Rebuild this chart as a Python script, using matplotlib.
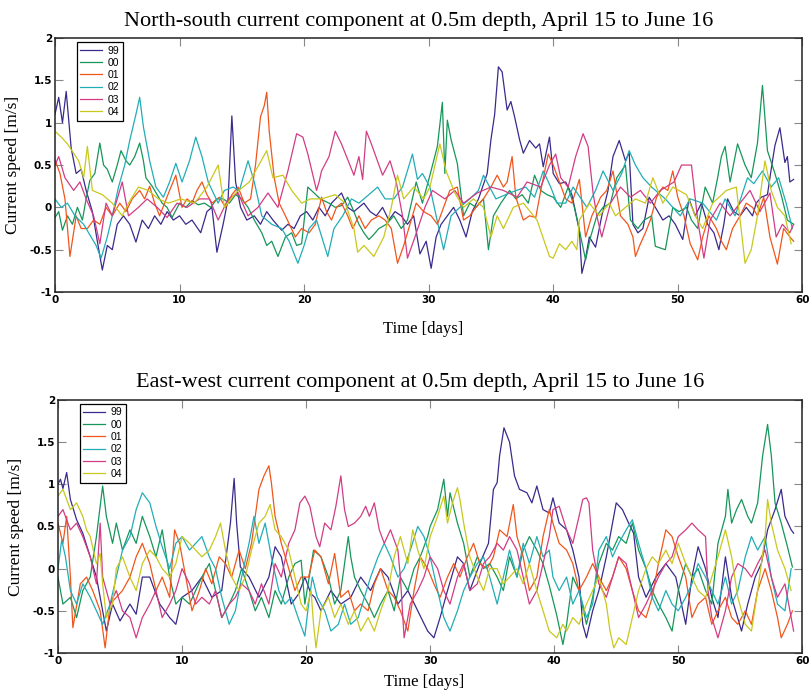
import matplotlib
matplotlib.use("Agg")
import matplotlib.pyplot as plt

labels = ["99", "00", "01", "02", "03", "04"]
colors = ["#3a2a8c", "#16965a", "#f0561c", "#22adb6", "#d23c84", "#c8c81e"]

# ---------- North-south component (top panel) ----------
ns99_t = [0,0.3,0.6,0.9,1.3,1.7,2.1,2.5,3.0,3.4,3.8,4.2,4.6,5.0,5.5,6.0,6.5,7.0,7.5,8.0,8.5,9.0,9.5,10.0,10.5,11.0,11.7,12.2,12.6,13.0,13.5,13.9,14.2,14.5,14.9,15.4,16.0,16.5,17.0,17.5,18.2,18.7,19.2,19.7,20.2,20.7,21.2,21.7,22.2,23.0,23.5,24.0,24.8,25.3,25.8,26.3,26.8,27.3,27.8,28.3,28.8,29.3,29.8,30.2,30.6,31.0,31.5,32.0,32.5,33.0,33.5,34.0,34.7,35.0,35.3,35.6,35.9,36.3,36.6,36.9,37.3,37.6,38.1,38.6,38.9,39.2,39.7,40.0,40.5,41.0,41.5,42.1,42.3,42.6,42.9,43.4,43.9,44.4,44.8,45.3,45.8,46.1,46.4,46.8,47.2,47.7,48.2,48.8,49.3,49.8,50.4,50.9,51.4,51.9,52.4,52.9,53.3,53.7,54.0,54.5,55.0,55.5,56.0,56.3,56.7,57.2,57.5,57.8,58.2,58.6,58.8,59.0,59.3]
ns99_v = [1.1,1.3,1.0,1.37,0.7,0.4,0.45,0.2,-0.05,-0.4,-0.74,-0.45,-0.5,-0.2,-0.1,-0.2,-0.41,-0.15,-0.25,-0.1,-0.2,-0.05,-0.15,-0.1,-0.2,-0.15,-0.3,-0.05,0.0,-0.53,-0.2,0.1,1.08,0.3,0.0,-0.15,-0.1,-0.2,-0.05,-0.15,-0.27,-0.2,-0.25,-0.1,-0.05,-0.15,0.0,-0.1,0.05,0.17,0.0,-0.05,0.05,-0.05,-0.1,0.0,-0.15,-0.05,-0.1,-0.2,-0.1,-0.55,-0.4,-0.72,-0.35,-0.2,-0.1,0.0,-0.15,-0.35,-0.05,0.1,0.4,0.8,1.1,1.66,1.6,1.15,1.25,1.07,0.8,0.64,0.79,0.7,0.75,0.48,0.83,0.4,0.28,0.3,0.15,-0.27,-0.78,-0.6,-0.35,-0.47,-0.1,0.2,0.6,0.79,0.55,0.65,-0.2,-0.3,-0.25,0.12,0.0,-0.15,-0.1,-0.2,-0.38,0.1,-0.1,0.05,-0.2,-0.3,-0.5,-0.2,0.1,-0.05,-0.1,0.0,-0.1,0.05,0.12,0.15,0.45,0.73,0.94,0.53,0.6,0.3,0.33]

ns00_t = [0,0.3,0.6,1.0,1.4,1.8,2.2,2.5,2.8,3.2,3.6,3.9,4.2,4.6,5.0,5.3,5.7,6.0,6.4,6.8,7.1,7.3,7.8,8.2,8.6,9.0,9.4,10.0,10.5,11.0,11.5,12.0,12.5,13.0,13.5,14.0,14.5,15.0,15.5,16.0,16.6,17.0,17.4,17.9,18.5,19.0,19.4,19.8,20.3,20.8,21.3,22.0,22.5,23.0,23.5,24.0,24.4,24.8,25.2,25.6,26.0,26.6,27.2,27.8,28.3,29.0,29.5,30.1,30.7,31.1,31.3,31.5,31.8,32.3,32.8,33.3,33.8,34.4,34.8,35.2,35.8,36.5,37.0,37.5,38.0,38.5,39.0,39.5,40.0,40.6,41.2,41.7,42.1,42.6,43.0,43.5,44.0,44.6,45.1,45.8,46.2,46.8,47.3,47.9,48.2,49.0,49.6,50.1,50.7,51.1,51.6,52.2,52.8,53.2,53.5,53.8,54.2,54.8,55.4,55.9,56.4,56.8,57.2,57.8,58.3,58.8,59.3]
ns00_v = [-0.12,-0.05,-0.27,-0.1,-0.2,0.0,-0.15,0.1,0.32,0.4,0.76,0.5,0.45,0.3,0.5,0.67,0.55,0.5,0.6,0.76,0.55,0.35,0.25,0.15,0.05,0.0,-0.12,0.05,0.0,0.08,0.03,0.05,0.0,0.1,0.1,0.05,0.15,0.1,0.0,-0.15,-0.3,-0.45,-0.4,-0.58,-0.35,-0.3,-0.45,-0.43,0.24,0.17,0.1,0.05,0.0,0.02,0.12,-0.05,-0.2,-0.3,-0.38,-0.32,-0.25,-0.2,-0.1,-0.25,-0.15,0.3,0.05,0.38,0.72,1.24,0.4,1.03,0.8,0.52,-0.1,0.05,0.0,0.1,-0.5,-0.1,0.05,0.2,0.1,0.15,0.05,0.38,0.2,0.15,0.12,0.0,0.24,0.0,-0.27,-0.62,-0.35,-0.1,0.0,0.05,0.35,0.5,-0.15,-0.25,-0.15,-0.1,-0.46,-0.5,0.0,-0.05,0.0,-0.15,-0.25,0.24,0.05,0.35,0.6,0.72,0.3,0.75,0.5,0.35,0.76,1.44,0.67,0.4,0.15,-0.15,-0.2]

ns01_t = [0,0.4,0.8,1.2,1.7,2.1,2.6,3.1,3.6,4.1,4.6,5.2,5.7,6.2,6.8,7.2,7.6,8.0,8.4,8.8,9.2,9.7,10.2,10.6,11.0,11.4,11.8,12.2,12.6,13.2,13.7,14.2,14.7,15.2,15.7,16.1,16.5,16.8,17.0,17.2,17.6,18.0,18.5,19.3,19.8,20.4,20.9,21.4,21.8,22.2,22.6,23.0,23.5,23.9,24.4,24.9,25.4,26.0,26.5,27.0,27.5,28.0,28.5,29.0,29.6,30.2,30.7,31.2,31.7,32.3,32.8,33.3,33.8,34.4,35.0,35.5,36.0,36.3,36.7,37.0,37.6,38.1,38.6,39.0,39.6,40.0,40.5,41.0,41.5,42.1,42.6,43.1,43.6,43.8,44.3,44.8,45.4,46.0,46.4,46.6,47.0,47.4,47.8,48.3,48.8,49.2,49.6,50.0,50.5,51.0,51.6,52.0,52.5,53.1,53.5,53.9,54.4,55.0,55.5,56.0,56.4,56.9,57.4,58.0,58.5,59.0,59.3]
ns01_v = [0.56,0.4,0.1,-0.58,-0.1,-0.25,-0.25,-0.15,-0.2,0.0,-0.1,0.05,-0.05,0.1,0.2,0.1,0.25,0.05,-0.1,0.05,0.2,0.38,0.0,0.1,0.05,0.2,0.3,0.15,0.05,0.12,0.0,0.15,0.24,0.05,0.1,0.5,1.07,1.2,1.36,0.9,0.35,0.05,-0.1,-0.35,-0.25,-0.3,-0.2,0.12,-0.05,-0.15,0.0,0.05,-0.1,-0.25,-0.1,-0.25,-0.15,-0.1,-0.15,-0.25,-0.66,-0.45,-0.2,0.05,-0.05,-0.1,-0.2,0.0,0.2,0.24,-0.15,-0.1,0.0,0.1,0.24,0.38,0.24,0.3,0.6,0.12,-0.15,-0.1,-0.12,0.2,0.63,0.5,0.3,0.1,0.05,0.33,-0.35,-0.1,0.05,0.12,0.2,0.43,-0.1,-0.2,-0.35,-0.58,-0.43,-0.3,-0.15,0.12,0.24,0.2,0.43,0.12,-0.1,-0.43,-0.62,-0.35,-0.1,-0.25,-0.4,-0.5,-0.25,-0.1,0.05,0.0,-0.1,0.12,-0.35,-0.67,-0.25,-0.35,-0.4]

ns02_t = [0,0.5,1.0,1.6,2.3,2.9,3.3,3.7,4.2,4.6,5.1,5.6,6.0,6.5,6.8,7.1,7.6,8.1,8.7,9.2,9.7,10.2,10.8,11.3,11.8,12.3,13.1,13.6,14.3,14.8,15.5,16.0,16.6,17.4,18.2,18.8,19.5,20.0,20.4,21.0,21.9,22.4,23.1,23.8,24.4,25.2,25.9,26.5,27.2,27.9,28.7,29.1,29.5,30.1,30.6,31.2,31.8,32.5,33.3,34.0,34.4,35.4,36.5,37.8,38.5,39.2,39.8,40.3,41.0,41.6,42.7,43.4,44.0,44.8,45.5,46.1,46.6,47.2,47.9,49.0,50.2,51.0,52.0,53.1,53.8,54.6,55.6,56.1,56.8,57.5,58.1,58.7,59.2]
ns02_v = [0.1,0.0,0.05,-0.1,-0.2,-0.35,-0.45,-0.6,-0.35,-0.1,0.24,0.5,0.79,1.1,1.3,0.95,0.55,0.24,0.12,0.3,0.52,0.3,0.55,0.83,0.6,0.3,0.05,0.2,0.24,0.2,0.55,0.3,-0.1,-0.2,-0.25,-0.4,-0.66,-0.45,-0.25,-0.15,-0.58,-0.25,-0.1,0.1,0.05,0.15,0.24,0.1,0.1,0.24,0.63,0.33,0.4,0.24,-0.1,-0.5,-0.1,0.0,0.1,0.2,0.38,0.1,0.17,0.24,0.12,0.43,0.24,0.05,0.05,0.24,0.0,0.2,0.43,0.2,0.4,0.67,0.5,0.35,0.24,0.1,-0.1,0.1,0.05,-0.15,0.1,-0.1,0.35,0.28,0.43,0.24,0.35,0.05,-0.25]

ns03_t = [0,0.3,0.8,1.5,2.0,2.5,3.1,3.6,4.1,4.6,5.4,5.9,6.7,7.4,8.2,9.0,9.8,10.6,11.6,12.4,13.1,13.9,14.7,15.5,16.3,17.1,17.9,18.7,19.4,19.9,20.3,21.0,21.2,21.4,22.0,22.5,23.0,24.0,24.4,24.7,25.0,25.4,26.3,26.9,27.4,27.9,28.3,28.9,29.7,30.3,31.3,32.1,32.8,33.9,35.0,36.0,37.1,37.9,39.0,39.7,40.2,40.6,41.2,41.8,42.4,42.8,43.2,43.5,43.9,44.6,45.4,46.2,47.0,47.8,48.6,49.7,50.3,51.1,51.6,52.1,52.6,53.4,54.2,55.0,55.8,56.6,57.4,57.9,58.4,59.0,59.3]
ns03_v = [0.5,0.6,0.35,0.2,0.3,0.1,-0.1,-0.43,0.05,-0.1,0.3,-0.1,0.0,0.1,0.0,-0.12,0.05,0.0,0.1,0.1,-0.15,0.1,0.17,-0.1,0.0,0.17,0.0,0.43,0.87,0.83,0.63,0.2,0.3,0.43,0.6,0.9,0.75,0.38,0.6,0.33,0.9,0.75,0.38,0.55,0.3,-0.1,-0.6,-0.35,0.0,0.2,0.1,0.2,0.05,0.17,0.24,0.2,0.12,0.3,0.24,0.5,0.63,0.35,0.24,0.6,0.87,0.72,0.17,-0.1,-0.35,0.05,0.24,0.12,0.2,0.05,0.2,0.3,0.5,0.5,-0.15,-0.6,-0.15,0.05,-0.1,0.05,0.2,-0.05,0.17,-0.35,-0.2,-0.3,-0.2]

ns04_t = [0,0.5,1.0,1.9,2.3,2.6,3.0,3.8,4.6,5.4,5.9,6.7,7.5,8.3,9.1,10.1,11.2,12.2,13.1,13.6,14.5,15.6,16.1,17.0,17.5,18.3,19.0,19.8,20.5,21.4,22.5,23.3,24.0,24.3,24.8,25.6,26.4,27.0,27.5,28.0,28.8,29.6,30.1,30.9,31.4,32.1,32.8,33.6,34.4,35.0,35.5,36.0,36.8,37.6,38.7,39.7,40.0,40.5,41.0,41.5,41.9,42.1,42.9,43.7,44.5,45.0,45.8,46.6,47.4,48.0,48.8,49.6,50.7,51.4,52.0,52.8,53.9,54.7,55.4,55.9,56.4,57.0,57.5,58.0,58.6,59.1]
ns04_v = [0.9,0.83,0.75,0.55,0.35,0.72,0.2,0.15,0.05,-0.1,0.05,0.24,0.2,0.1,0.05,0.1,0.05,0.24,0.5,0.0,0.17,0.3,0.43,0.67,0.35,0.38,0.2,0.05,0.1,0.1,0.15,0.05,-0.25,-0.53,-0.45,-0.58,-0.35,0.0,0.38,0.1,0.24,0.1,0.24,0.75,0.43,0.17,0.0,0.1,0.0,-0.35,-0.1,-0.25,0.0,0.05,-0.15,-0.58,-0.6,-0.43,-0.5,-0.4,-0.5,-0.15,0.05,-0.1,0.05,-0.1,0.0,0.1,0.05,0.35,0.05,0.24,0.15,-0.1,-0.25,0.05,0.2,0.24,-0.66,-0.5,-0.1,0.55,0.2,0.0,-0.1,-0.43]

# ---------- East-west component (bottom panel) ----------
ew99_t = [0,0.2,0.4,0.7,1.0,1.5,2.0,2.6,3.1,3.6,3.9,4.4,5.0,5.8,6.3,6.8,7.4,8.2,9.0,9.5,10.0,10.8,11.6,12.4,13.2,13.9,14.2,14.4,14.7,15.4,16.2,17.0,17.5,18.0,18.8,19.4,19.9,20.4,20.7,21.2,22.0,22.8,23.6,24.4,25.2,26.0,26.6,27.4,28.2,29.0,29.8,30.3,30.8,31.4,32.2,32.7,33.2,34.0,34.7,35.1,35.4,35.6,35.95,36.4,36.8,37.2,37.8,38.2,38.6,39.1,39.6,39.9,40.4,41.0,41.5,42.0,42.3,42.6,43.1,43.6,44.2,44.7,45.0,45.5,46.0,46.4,46.8,47.4,48.2,49.0,49.8,50.6,51.1,51.6,52.2,52.7,53.2,53.8,54.3,55.1,55.6,56.2,56.7,57.2,57.8,58.3,58.6,59.1,59.3]
ew99_v = [1.0,1.06,0.95,1.14,0.82,0.58,0.42,0.14,-0.1,-0.5,-0.74,-0.42,-0.62,-0.42,-0.54,-0.1,-0.1,-0.42,-0.58,-0.66,-0.34,-0.26,-0.1,-0.34,-0.26,0.54,1.07,0.54,0.02,-0.1,-0.34,-0.1,0.26,0.14,-0.42,-0.3,-0.1,-0.3,-0.34,-0.5,-0.26,-0.42,-0.34,-0.1,-0.26,0.0,-0.1,-0.42,-0.26,-0.5,-0.74,-0.82,-0.58,-0.26,0.14,0.06,-0.26,0.06,0.3,0.94,1.02,1.34,1.67,1.5,1.1,0.94,0.9,0.78,0.98,0.7,0.66,0.84,0.54,0.46,0.22,-0.1,-0.66,-0.82,-0.5,-0.26,0.14,0.54,0.78,0.7,0.54,0.42,-0.1,-0.34,-0.1,0.06,-0.1,-0.66,-0.1,0.26,0.0,-0.34,-0.58,0.14,-0.34,-0.74,-0.42,-0.1,0.06,0.46,0.7,0.94,0.62,0.46,0.42]

ew00_t = [0,0.4,1.0,1.5,2.0,2.6,3.1,3.6,3.9,4.4,4.7,5.2,5.8,6.3,6.8,7.4,7.9,8.4,9.0,9.5,10.0,10.6,11.1,11.6,12.2,12.7,13.2,13.8,14.3,14.8,15.4,15.9,16.4,17.0,17.5,18.0,18.6,19.1,19.6,19.9,20.6,21.2,21.8,22.3,22.8,23.4,23.6,23.9,24.4,25.0,25.5,26.0,26.6,27.1,27.6,28.2,28.7,29.2,29.8,30.0,30.6,31.1,31.4,31.6,32.2,32.7,33.2,33.8,34.3,34.8,35.4,35.9,36.4,37.0,37.5,38.0,38.6,39.1,39.6,40.2,40.7,41.0,41.5,42.0,42.6,43.1,43.6,44.2,44.7,45.2,45.8,46.3,46.8,47.4,47.9,48.4,49.0,49.5,50.0,50.6,51.1,51.6,52.2,52.7,53.2,53.8,54.0,54.3,54.7,55.1,55.6,55.9,56.4,56.8,57.2,57.5,57.8,58.3,58.8,59.2]
ew00_v = [-0.1,-0.42,-0.34,-0.58,-0.26,-0.1,0.38,0.98,0.62,0.3,0.54,0.22,0.46,0.3,0.62,0.38,0.14,0.46,-0.1,-0.42,-0.34,-0.42,-0.26,-0.1,0.06,-0.26,-0.58,-0.42,-0.26,0.0,-0.26,-0.5,-0.34,-0.58,-0.26,-0.42,-0.1,0.06,0.1,-0.42,0.22,0.14,-0.1,-0.42,-0.26,0.38,0.14,-0.1,-0.26,-0.42,-0.58,-0.42,-0.26,-0.5,-0.1,-0.26,0.0,0.14,0.38,0.5,0.7,1.06,0.62,0.9,0.54,0.3,-0.1,0.14,0.0,0.06,-0.1,-0.26,0.14,-0.1,0.22,0.38,0.22,0.06,-0.2,-0.55,-0.9,-0.66,-0.1,-0.26,-0.66,-0.34,0.06,0.3,0.22,0.38,0.3,0.54,0.22,0.0,-0.26,-0.42,-0.58,-0.74,-0.26,0.06,-0.1,0.0,-0.26,-0.42,0.3,0.62,0.94,0.54,0.7,0.82,0.62,0.54,0.78,1.34,1.71,1.34,0.78,0.54,0.26,0.02]

ew01_t = [0,0.4,0.7,1.0,1.2,1.8,2.3,2.8,3.4,3.8,4.2,4.7,5.2,5.8,6.3,6.8,7.4,7.9,8.4,9.0,9.4,9.8,10.3,10.8,11.4,11.9,12.4,13.0,13.5,14.0,14.6,15.1,15.6,16.2,16.6,17.0,17.2,17.5,18.0,18.6,19.1,19.6,20.2,20.7,21.2,21.8,22.3,22.8,23.4,23.9,24.4,25.0,25.5,26.0,26.6,27.1,27.6,28.2,28.7,29.2,29.8,30.3,30.8,31.4,31.9,32.4,33.0,33.5,34.0,34.6,35.1,35.6,36.2,36.7,37.0,37.5,38.0,38.6,39.1,39.6,39.9,40.4,41.0,41.5,42.0,42.6,43.1,43.6,44.2,44.7,45.2,45.8,46.3,46.8,47.4,47.9,48.4,49.0,49.5,50.0,50.6,51.1,51.6,52.2,52.7,53.2,53.8,54.3,54.8,55.4,55.9,56.4,57.0,57.5,58.0,58.3,58.8,59.2]
ew01_v = [0.54,0.3,0.62,-0.1,-0.7,-0.18,-0.1,-0.26,-0.5,-0.94,-0.42,-0.34,-0.26,-0.1,0.14,0.3,0.06,-0.26,-0.1,-0.34,0.46,0.3,-0.1,-0.5,-0.26,0.0,-0.18,0.14,0.06,-0.1,0.22,0.0,0.3,0.94,1.1,1.22,1.02,0.62,0.3,0.0,-0.26,-0.1,-0.1,0.22,0.14,-0.18,0.18,-0.34,-0.26,-0.5,-0.42,-0.5,-0.18,0.0,-0.26,-0.34,-0.5,-0.74,-0.26,0.14,0.0,-0.18,-0.34,-0.1,0.06,-0.1,0.14,0.3,0.06,0.0,0.14,0.46,0.38,0.76,0.38,0.14,-0.26,-0.1,0.38,0.7,0.54,0.3,0.22,0.06,-0.26,-0.1,0.06,-0.1,-0.26,-0.1,0.14,0.0,-0.26,-0.5,-0.58,-0.34,0.06,0.46,0.38,0.14,-0.1,-0.58,-0.42,-0.34,-0.66,-0.5,-0.34,-0.58,-0.66,-0.5,-0.66,-0.26,0.0,-0.26,-0.58,-0.82,-0.66,-0.5]

ew02_t = [0,0.3,0.6,1.0,1.5,2.0,2.6,3.1,3.6,4.2,4.7,5.2,5.8,6.3,6.8,7.4,7.9,8.4,9.0,9.5,10.0,10.6,11.1,11.6,12.2,12.7,13.2,13.8,14.3,14.8,15.4,15.8,16.2,16.7,17.2,17.8,18.3,18.8,19.4,19.9,20.2,20.5,20.9,21.5,22.0,22.6,23.1,23.6,24.2,24.7,25.2,25.8,26.3,26.8,27.4,27.9,28.4,29.0,29.5,30.0,30.6,31.1,31.6,32.2,32.7,33.2,33.8,34.3,34.8,35.4,35.9,36.4,37.0,37.5,38.0,38.6,39.1,39.6,39.9,40.4,41.0,41.5,42.0,42.6,43.1,43.6,44.2,44.7,45.2,45.8,46.3,46.8,47.4,47.9,48.4,49.0,49.5,50.0,50.6,51.1,51.6,52.2,52.7,53.2,53.8,54.3,54.8,55.4,55.9,56.4,57.0,57.5,58.0,58.6,59.1]
ew02_v = [0.0,0.34,0.14,-0.26,-0.42,-0.18,-0.34,-0.5,-0.66,-0.42,-0.1,0.22,0.38,0.7,0.9,0.78,0.5,0.26,0.0,0.3,0.38,0.22,0.3,0.38,0.14,0.0,-0.34,-0.66,-0.5,-0.1,0.3,0.62,0.3,0.54,0.14,-0.26,-0.42,-0.34,-0.6,-0.8,-0.42,-0.1,-0.34,-0.5,-0.74,-0.66,-0.42,-0.66,-0.58,-0.34,-0.1,0.14,0.3,0.14,-0.1,0.0,0.22,0.5,0.38,0.14,-0.26,-0.58,-0.74,-0.5,-0.26,-0.1,0.06,0.14,-0.1,-0.42,-0.1,0.22,-0.1,0.3,0.06,0.38,0.14,0.22,-0.1,-0.26,-0.1,-0.42,-0.26,-0.58,-0.42,0.22,0.38,0.14,0.3,0.46,0.58,0.3,0.0,-0.34,-0.5,-0.26,-0.42,-0.5,-0.34,-0.18,0.06,-0.1,-0.26,-0.42,-0.1,-0.42,-0.26,0.14,0.38,0.22,0.38,-0.1,-0.42,-0.5,0.0]

ew03_t = [0,0.4,1.0,1.5,2.0,2.6,3.1,3.4,3.6,4.2,4.7,5.2,5.8,6.3,6.8,7.4,7.9,8.4,9.0,9.5,10.0,10.6,11.1,11.6,12.2,12.7,13.2,13.8,14.3,14.8,15.4,15.9,16.4,17.0,17.5,18.0,18.6,19.1,19.5,19.9,20.3,20.8,21.1,21.5,22.0,22.4,22.8,23.1,23.4,23.9,24.4,24.8,25.1,25.5,25.9,26.3,26.8,27.4,27.6,27.9,28.4,29.0,29.5,30.0,30.6,31.1,31.6,32.2,32.7,33.2,33.8,34.3,34.8,35.4,35.9,36.4,37.0,37.5,38.0,38.6,39.1,39.6,39.9,40.4,41.0,41.5,42.0,42.3,42.6,42.8,43.1,43.6,44.2,44.7,45.2,45.8,46.3,46.8,47.4,47.9,48.4,49.0,49.5,50.0,50.6,51.1,51.6,52.2,52.4,52.7,53.2,53.8,54.3,54.8,55.4,55.9,56.4,57.0,57.5,58.0,58.6,59.1,59.3]
ew03_v = [0.62,0.7,0.46,0.54,0.38,0.14,-0.18,0.54,-0.1,-0.42,-0.26,-0.5,-0.58,-0.82,-0.58,-0.42,-0.26,-0.58,-0.42,-0.26,0.0,-0.18,-0.42,-0.34,-0.42,-0.26,-0.58,-0.42,-0.34,-0.18,-0.26,-0.42,-0.18,-0.42,0.06,-0.1,0.3,0.46,0.78,0.86,0.74,0.38,0.26,0.54,0.46,0.74,1.1,0.7,0.5,0.54,0.62,0.74,0.62,0.78,0.46,0.3,0.46,0.22,-0.1,-0.82,-0.42,-0.26,-0.1,0.14,0.0,-0.26,-0.42,-0.1,0.06,-0.26,-0.18,0.06,0.14,0.3,0.22,0.38,0.22,-0.1,-0.42,-0.26,0.06,0.38,0.7,0.74,0.46,0.3,0.62,0.82,0.84,0.78,0.22,-0.18,-0.34,-0.1,0.14,0.06,-0.26,-0.58,-0.42,-0.26,-0.1,0.06,0.14,0.38,0.46,0.54,0.46,0.38,-0.26,-0.58,-0.82,-0.5,-0.1,0.06,0.0,-0.1,0.06,0.22,-0.1,-0.34,-0.18,-0.58,-0.74]

ew04_t = [0,0.4,1.0,1.5,2.0,2.3,2.6,3.1,3.4,3.6,3.9,4.4,4.7,5.2,5.8,6.3,6.8,7.4,7.9,8.4,9.0,9.5,10.0,10.6,11.1,11.6,12.2,12.7,13.1,13.5,14.0,14.6,15.1,15.6,16.2,16.7,17.1,17.5,18.0,18.6,19.1,19.6,20.0,20.4,20.6,20.8,21.2,21.8,22.3,22.8,23.4,23.9,24.4,25.0,25.5,26.0,26.6,27.1,27.6,28.2,28.6,29.0,29.5,30.0,30.6,31.1,31.4,31.8,32.2,32.4,32.7,33.2,33.8,34.3,34.8,35.4,35.9,36.4,37.0,37.5,38.0,38.6,39.1,39.6,40.2,40.7,41.0,41.5,42.0,42.6,43.1,43.6,44.2,44.5,44.8,45.2,45.8,46.3,46.8,47.4,47.9,48.4,49.0,49.5,50.0,50.6,51.1,51.6,52.2,52.7,53.2,53.8,54.3,54.8,55.4,55.9,56.4,57.0,57.2,57.5,58.0,58.6,59.1]
ew04_v = [0.86,0.94,0.7,0.78,0.62,0.46,0.38,0.06,0.18,-0.18,-0.58,-0.42,0.0,0.14,-0.1,-0.26,0.06,0.22,0.14,0.0,-0.1,0.06,0.38,0.3,0.22,0.14,0.22,0.38,0.54,0.22,-0.1,-0.26,-0.1,0.22,0.54,0.62,0.76,0.46,0.38,0.22,-0.1,-0.42,-0.5,-0.26,-0.66,-0.94,-0.5,-0.34,-0.58,-0.42,-0.66,-0.5,-0.74,-0.58,-0.74,-0.5,-0.26,0.14,0.38,0.06,0.46,0.22,0.0,0.38,0.62,0.86,0.54,0.78,0.96,0.82,0.54,0.14,-0.1,-0.26,0.0,0.0,-0.18,-0.1,0.0,-0.18,0.06,-0.26,-0.5,-0.74,-0.82,-0.66,-0.74,-0.58,-0.66,-0.42,-0.26,-0.1,-0.42,-0.74,-0.94,-0.82,-0.9,-0.58,-0.26,0.0,0.14,0.06,0.22,0.06,0.3,0.06,-0.1,-0.26,-0.34,-0.1,0.14,0.46,0.14,-0.34,-0.66,-0.74,-0.26,0.38,0.82,0.54,0.22,0.0,-0.26]

ns_series = [(ns99_t, ns99_v), (ns00_t, ns00_v), (ns01_t, ns01_v),
             (ns02_t, ns02_v), (ns03_t, ns03_v), (ns04_t, ns04_v)]
ew_series = [(ew99_t, ew99_v), (ew00_t, ew00_v), (ew01_t, ew01_v),
             (ew02_t, ew02_v), (ew03_t, ew03_v), (ew04_t, ew04_v)]

titles = ["North-south current component at 0.5m depth, April 15 to June 16",
          "East-west current component at 0.5m depth, April 15 to June 16"]
x_ticks = [0, 10, 20, 30, 40, 50, 60]
y_ticks = [-1, -0.5, 0, 0.5, 1, 1.5, 2]
y_ticklabels = ["-1", "-0.5", "0", "0.5", "1", "1.5", "2"]

serif = ["Liberation Serif", "DejaVu Serif"]
tickfont = ["DejaVu Sans"]

fig = plt.figure(figsize=(8.11, 6.92), dpi=100)
ax1 = fig.add_axes([0.0678, 0.578, 0.9215, 0.367])
ax2 = fig.add_axes([0.0715, 0.0564, 0.9178, 0.3656])

for ax, series, title, xpad in [(ax1, ns_series, titles[0], 12), (ax2, ew_series, titles[1], 6)]:
    for (t, v), lab, c in zip(series, labels, colors):
        ax.plot(t, v, color=c, lw=0.9, label=lab)
    ax.set_xlim(0, 60)
    ax.set_ylim(-1, 2)
    ax.set_xticks(x_ticks)
    ax.set_yticks(y_ticks)
    ax.set_xticklabels([str(x) for x in x_ticks], family=tickfont, weight="bold", fontsize=7.5)
    ax.set_yticklabels(y_ticklabels, family=tickfont, weight="bold", fontsize=7.5)
    ax.tick_params(direction="in", top=True, right=True, length=5.5, width=0.8,
                   color="#888888", pad=2)
    for s in ax.spines.values():
        s.set_linewidth(1.1)
        s.set_color("#222222")
    ax.set_title(title, family=serif, fontsize=16, pad=9, x=0.487)
    ax.set_xlabel("Time [days]", family=serif, fontsize=12, labelpad=xpad,
                  x=0.492, ha="center")
    ax.set_ylabel("Current speed [m/s]", family=serif, fontsize=12.5, labelpad=6)
    leg = ax.legend(loc="upper left", bbox_to_anchor=(0.029, 0.985), borderaxespad=0,
                    handlelength=2.1, labelspacing=0.22, handletextpad=0.55,
                    borderpad=0.35, fancybox=False, framealpha=1, edgecolor="black",
                    prop={"family": ["Liberation Sans", "DejaVu Sans"], "size": 7.5})
    leg.get_frame().set_linewidth(0.9)

fig.savefig("out.png", dpi=100)
